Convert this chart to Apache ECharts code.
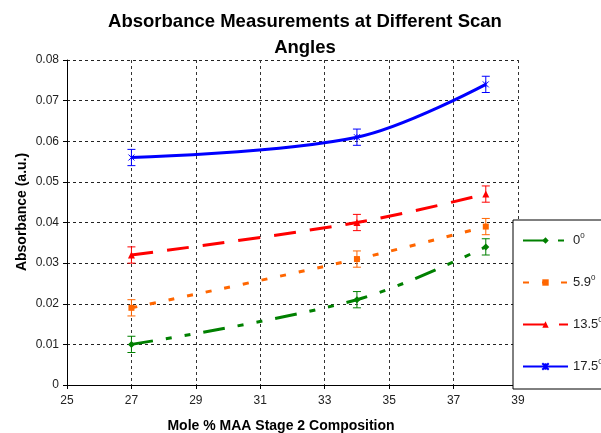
<!DOCTYPE html>
<html>
<head>
<meta charset="utf-8">
<script src="https://cdn.jsdelivr.net/npm/echarts@6/dist/echarts.min.js"></script>
<style>html,body{margin:0;padding:0;background:#fff}#c{width:601px;height:433px}</style>
</head>
<body>
<div id="c"></div>
<script>
const xValues = [27, 34, 38];
const seriesNames = ['0', '5.9', '13.5', '17.5'];
const angle0 = [0.010, 0.021, 0.034];
const angle5_9 = [0.019, 0.031, 0.039];
const angle13_5 = [0.032, 0.040, 0.047];
const angle17_5 = [0.056, 0.061, 0.074];
const err0 = [0.002, 0.002, 0.002];
const err5_9 = [0.002, 0.002, 0.002];
const err13_5 = [0.002, 0.002, 0.002];
const err17_5 = [0.002, 0.002, 0.002];

const values = [angle0, angle5_9, angle13_5, angle17_5];
const errors = [err0, err5_9, err13_5, err17_5];
const colors = ['#008000', '#FF6600', '#FF0000', '#0000FF'];
const dashes = [[22, 13, 6, 13, 6, 13], [6, 13], [22, 14], 'solid'];
const symbols = ['diamond', 'rect', 'triangle', 'path://M0,0L10,10M10,0L0,10M5,0L5,10'];
const symbolSizes = [7, 6, 7, 6];

const font = '"Liberation Sans", Arial, sans-serif';
const chart = echarts.init(document.getElementById('c'), null, {renderer: 'canvas'});

const series = [];
values.forEach((vals, i) => {
  series.push({
    name: seriesNames[i],
    type: 'line',
    smooth: 0.35,
    data: xValues.map((x, j) => [x, vals[j]]),
    symbol: symbols[i],
    symbolSize: symbolSizes[i],
    showSymbol: true,
    itemStyle: {color: colors[i], borderColor: colors[i], borderWidth: i === 3 ? 1 : 0},
    lineStyle: {color: colors[i], width: 3, type: dashes[i]},
    z: 3
  });
  series.push({
    name: seriesNames[i],
    type: 'custom',
    data: xValues.map((x, j) => [x, vals[j] - errors[i][j], vals[j] + errors[i][j]]),
    renderItem: function (params, api) {
      const lo = api.coord([api.value(0), api.value(1)]);
      const hi = api.coord([api.value(0), api.value(2)]);
      const w = 4;
      const st = {stroke: colors[i], lineWidth: 1};
      return {
        type: 'group',
        children: [
          {type: 'line', shape: {x1: lo[0], y1: lo[1], x2: hi[0], y2: hi[1]}, style: st},
          {type: 'line', shape: {x1: lo[0] - w, y1: lo[1], x2: lo[0] + w, y2: lo[1]}, style: st},
          {type: 'line', shape: {x1: hi[0] - w, y1: hi[1], x2: hi[0] + w, y2: hi[1]}, style: st}
        ]
      };
    },
    z: 4
  });
});

chart.setOption({
  animation: false,
  backgroundColor: '#fff',
  title: [
    {
      text: 'Absorbance Measurements at Different Scan\nAngles',
      left: 300, top: 4, textAlign: 'center',
      textStyle: {fontFamily: font, fontSize: 18.5, fontWeight: 'bold', color: '#000', lineHeight: 26}
    },
    {
      text: 'Mole % MAA Stage 2 Composition',
      left: 276, top: 414, textAlign: 'center',
      textStyle: {fontFamily: font, fontSize: 14, fontWeight: 'bold', color: '#000'}
    }
  ],
  graphic: [{
    type: 'text', x: 22, y: 212, rotation: Math.PI / 2,
    style: {text: 'Absorbance (a.u.)', fontFamily: font, fontSize: 14, fontWeight: 'bold',
      fill: '#000', align: 'center', verticalAlign: 'middle'}
  }],
  grid: {left: 67, top: 60, right: 83, bottom: 48, containLabel: false, outerBoundsMode: 'none'},
  xAxis: {
    type: 'value', min: 25, max: 39, interval: 2,
    axisLine: {show: true, lineStyle: {color: '#000', width: 1}},
    axisTick: {show: true, length: 4, lineStyle: {color: '#000'}},
    axisLabel: {fontFamily: font, fontSize: 12, color: '#222', margin: 10},
    splitLine: {show: true, lineStyle: {color: '#333', type: [3, 3], width: 1}}
  },
  yAxis: {
    type: 'value', min: 0, max: 0.08, interval: 0.01,
    axisLine: {show: true, lineStyle: {color: '#000', width: 1}},
    axisTick: {show: true, length: 4, lineStyle: {color: '#000'}},
    axisLabel: {fontFamily: font, fontSize: 12, color: '#222', margin: 8,
      formatter: v => v === 0 ? '0' : v.toFixed(2)},
    splitLine: {show: true, lineStyle: {color: '#222', type: [3, 3], width: 1}}
  },
  legend: {
    data: seriesNames,
    orient: 'vertical',
    left: 513, top: 220,
    itemWidth: 45, itemHeight: 8, itemGap: 27,
    padding: [12, 30, 16, 9],
    borderColor: '#000', borderWidth: 1, backgroundColor: '#fff',
    formatter: n => n + '{sup|0}',
    textStyle: {fontFamily: font, fontSize: 13, color: '#222',
      rich: {sup: {fontFamily: font, fontSize: 8, color: '#222', padding: [0, 0, 9, 0]}}},
    z: 10
  },
  series: series
});
</script>
</body>
</html>
